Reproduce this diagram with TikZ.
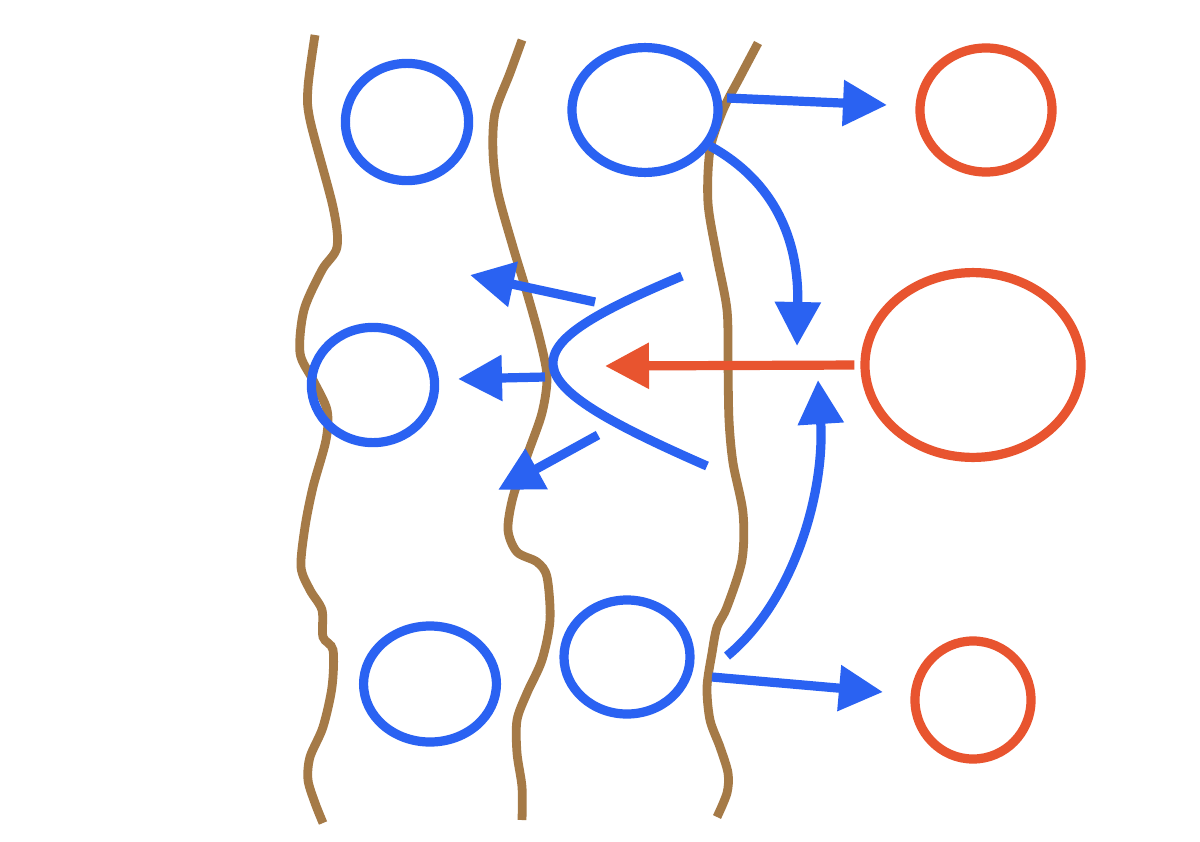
\documentclass[tikz,border=0pt]{standalone}
\usepackage{tikz}
\usetikzlibrary{arrows.meta,shapes.geometric}
\definecolor{cellblue}{HTML}{2A62F2}
\definecolor{hotred}{HTML}{E8542F}
\definecolor{wallbrown}{HTML}{A57A47}

\begin{document}
\begin{tikzpicture}[x=0.025cm,y=-0.025cm,
    cell/.style={ellipse,draw=cellblue,line width=0.23cm,inner sep=0pt},
    hot/.style={ellipse,draw=hotred,line width=0.23cm,inner sep=0pt},
    wall/.style={draw=wallbrown,line width=0.22cm},
    flow/.style={draw=cellblue,line width=0.23cm,-{Triangle[length=1.1cm,width=1.1cm]}}]
  \fill[white] (0,0) rectangle (1200,841);
  \useasboundingbox (0,0) rectangle (1200,841);
  % walls
  \draw[wall] plot[smooth] coordinates {(315,35) (308,87) (310,120) (333,207) (337,247) (322,270) (304,310) (300,353) (313,380) (327,410) (326,440) (313,487) (305,527) (301,567) (310,590) (322,610) (323,637) (333,650) (332,687) (323,727) (310,757) (308,780) (315,803) (323,823)};
  \draw[wall] plot[smooth] coordinates {(522,40) (510,73) (495,113) (493,153) (498,193) (513,247) (527,293) (540,340) (547,377) (542,413) (528,453) (513,497) (508,530) (517,552) (537,562) (547,577) (550,620) (542,660) (527,693) (517,720) (517,753) (522,787) (522,820)};
  \draw[wall] plot[smooth] coordinates {(758,43) (740,77) (723,110) (710,150) (708,203) (717,257) (727,310) (728,363) (729,420) (733,463) (743,513) (742,560) (727,607) (717,627) (712,653) (707,687) (710,720) (720,747) (728,773) (727,793) (717,817)};
  % cells
  \node[cell,minimum width=3.08cm,minimum height=2.93cm] (b1) at (407,122) {};
  \node[cell,minimum width=3.65cm,minimum height=3.12cm] (b2) at (645,110) {};
  \node[cell,minimum width=3.08cm,minimum height=2.88cm] (b3) at (373,385) {};
  \node[cell,minimum width=3.32cm,minimum height=2.90cm] (b4) at (430,684) {};
  \node[cell,minimum width=3.15cm,minimum height=2.85cm] (b5) at (627,657) {};
  \node[hot,minimum width=3.30cm,minimum height=3.10cm] (r1) at (986,110) {};
  \node[hot,minimum width=5.40cm,minimum height=4.62cm] (r2) at (973,365) {};
  \node[hot,minimum width=2.90cm,minimum height=2.95cm] (r3) at (973,700) {};
  % free ends
  \coordinate (s1) at (595,302); \coordinate (t1) at (470,275);
  \coordinate (s2) at (545,377); \coordinate (t2) at (458,379);
  \coordinate (s3) at (598,435); \coordinate (t3) at (498,490);
  \coordinate (s4) at (727,98);  \coordinate (t4) at (887,105);
  \coordinate (t5) at (797,346);
  \coordinate (s6) at (727,656); \coordinate (t6) at (818,380);
  \coordinate (s7) at (712,677); \coordinate (t7) at (883,692);
  \coordinate (tr) at (605,366);
  % front
  \draw[draw=cellblue,line width=0.23cm] (682,276) .. controls (506,350) and (506,378) .. (707,466);
  \draw[flow,draw=hotred,shorten <=0.15cm] (r2.west) -- (tr);
  \draw[flow] (s1) -- (t1);
  \draw[flow] (s2) -- (t2);
  \draw[flow] (s3) -- (t3);
  \draw[flow] (s4) -- (t4);
  \draw[flow] (b2.-29) .. controls (775,182) and (799,240) .. (t5);
  \draw[flow] (s6) .. controls (795,600) and (825,490) .. (t6);
  \draw[flow] (s7) -- (t7);
\end{tikzpicture}
\end{document}
